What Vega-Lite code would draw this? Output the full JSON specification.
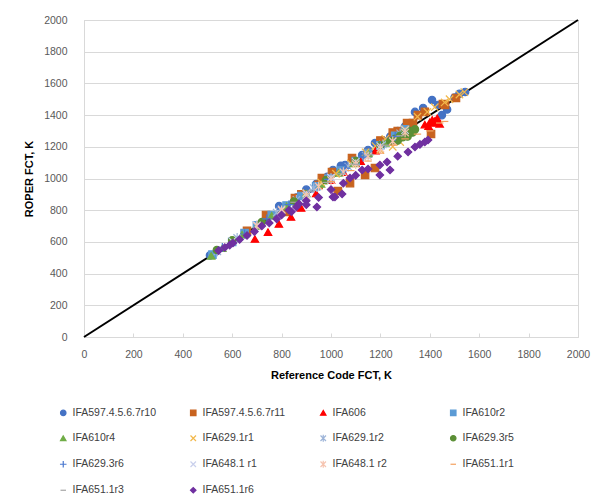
{
  "$schema": "https://vega.github.io/schema/vega-lite/v6.json",
  "width": 494,
  "height": 317,
  "padding": {"left": 84, "top": 20, "right": 26, "bottom": 160},
  "autosize": {"type": "none"},
  "background": "white",
  "config": {
    "font": "Liberation Sans",
    "view": {"stroke": "#D9D9D9", "strokeWidth": 1},
    "axis": {
      "labelFont": "Liberation Sans",
      "labelFontSize": 10.5,
      "labelColor": "#595959",
      "titleFont": "Liberation Sans",
      "titleFontSize": 11,
      "titleFontWeight": "bold",
      "titleColor": "#000000",
      "domainColor": "#D9D9D9",
      "tickColor": "#D9D9D9",
      "gridColor": "#D9D9D9",
      "labelOverlap": false,
      "labelFlush": false
    }
  },
  "datasets": {
    "pts": [
      {"s": "IFA597.4.5.6.7r10", "x": 510, "y": 515},
      {"s": "IFA597.4.5.6.7r10", "x": 790, "y": 826},
      {"s": "IFA597.4.5.6.7r10", "x": 860, "y": 880},
      {"s": "IFA597.4.5.6.7r10", "x": 900, "y": 930},
      {"s": "IFA597.4.5.6.7r10", "x": 940, "y": 965},
      {"s": "IFA597.4.5.6.7r10", "x": 985, "y": 1010},
      {"s": "IFA597.4.5.6.7r10", "x": 1008, "y": 1054},
      {"s": "IFA597.4.5.6.7r10", "x": 1040, "y": 1080},
      {"s": "IFA597.4.5.6.7r10", "x": 1057, "y": 1085},
      {"s": "IFA597.4.5.6.7r10", "x": 1090, "y": 1120},
      {"s": "IFA597.4.5.6.7r10", "x": 1126, "y": 1148},
      {"s": "IFA597.4.5.6.7r10", "x": 1150, "y": 1180},
      {"s": "IFA597.4.5.6.7r10", "x": 1178, "y": 1224},
      {"s": "IFA597.4.5.6.7r10", "x": 1210, "y": 1240},
      {"s": "IFA597.4.5.6.7r10", "x": 1240, "y": 1265},
      {"s": "IFA597.4.5.6.7r10", "x": 1270, "y": 1300},
      {"s": "IFA597.4.5.6.7r10", "x": 1300, "y": 1330},
      {"s": "IFA597.4.5.6.7r10", "x": 1330, "y": 1350},
      {"s": "IFA597.4.5.6.7r10", "x": 1340, "y": 1420},
      {"s": "IFA597.4.5.6.7r10", "x": 1373, "y": 1445},
      {"s": "IFA597.4.5.6.7r10", "x": 1409, "y": 1495},
      {"s": "IFA597.4.5.6.7r10", "x": 1433, "y": 1464},
      {"s": "IFA597.4.5.6.7r10", "x": 1449, "y": 1400},
      {"s": "IFA597.4.5.6.7r10", "x": 1470, "y": 1435},
      {"s": "IFA597.4.5.6.7r10", "x": 1500, "y": 1510},
      {"s": "IFA597.4.5.6.7r10", "x": 1520, "y": 1535},
      {"s": "IFA597.4.5.6.7r10", "x": 1543, "y": 1546},
      {"s": "IFA597.4.5.6.7r11", "x": 660, "y": 670},
      {"s": "IFA597.4.5.6.7r11", "x": 737, "y": 770},
      {"s": "IFA597.4.5.6.7r11", "x": 822, "y": 789},
      {"s": "IFA597.4.5.6.7r11", "x": 854, "y": 877},
      {"s": "IFA597.4.5.6.7r11", "x": 880, "y": 900},
      {"s": "IFA597.4.5.6.7r11", "x": 950, "y": 960},
      {"s": "IFA597.4.5.6.7r11", "x": 963, "y": 1003},
      {"s": "IFA597.4.5.6.7r11", "x": 1004, "y": 1041},
      {"s": "IFA597.4.5.6.7r11", "x": 1028, "y": 921},
      {"s": "IFA597.4.5.6.7r11", "x": 1077, "y": 971},
      {"s": "IFA597.4.5.6.7r11", "x": 1085, "y": 1129},
      {"s": "IFA597.4.5.6.7r11", "x": 1100, "y": 1100},
      {"s": "IFA597.4.5.6.7r11", "x": 1138, "y": 1022},
      {"s": "IFA597.4.5.6.7r11", "x": 1150, "y": 1160},
      {"s": "IFA597.4.5.6.7r11", "x": 1178, "y": 1066},
      {"s": "IFA597.4.5.6.7r11", "x": 1200, "y": 1240},
      {"s": "IFA597.4.5.6.7r11", "x": 1250, "y": 1290},
      {"s": "IFA597.4.5.6.7r11", "x": 1270, "y": 1300},
      {"s": "IFA597.4.5.6.7r11", "x": 1308, "y": 1350},
      {"s": "IFA597.4.5.6.7r11", "x": 1332, "y": 1350},
      {"s": "IFA597.4.5.6.7r11", "x": 1352, "y": 1400},
      {"s": "IFA597.4.5.6.7r11", "x": 1380, "y": 1420},
      {"s": "IFA597.4.5.6.7r11", "x": 1405, "y": 1281},
      {"s": "IFA597.4.5.6.7r11", "x": 1453, "y": 1470},
      {"s": "IFA597.4.5.6.7r11", "x": 1462, "y": 1464},
      {"s": "IFA597.4.5.6.7r11", "x": 1506, "y": 1508},
      {"s": "IFA606", "x": 692, "y": 618},
      {"s": "IFA606", "x": 745, "y": 662},
      {"s": "IFA606", "x": 789, "y": 713},
      {"s": "IFA606", "x": 838, "y": 757},
      {"s": "IFA606", "x": 879, "y": 814},
      {"s": "IFA606", "x": 940, "y": 905},
      {"s": "IFA606", "x": 1000, "y": 990},
      {"s": "IFA606", "x": 1050, "y": 1040},
      {"s": "IFA606", "x": 1120, "y": 1110},
      {"s": "IFA606", "x": 1180, "y": 1175},
      {"s": "IFA606", "x": 1250, "y": 1240},
      {"s": "IFA606", "x": 1380, "y": 1340},
      {"s": "IFA606", "x": 1395, "y": 1330},
      {"s": "IFA606", "x": 1400, "y": 1355},
      {"s": "IFA606", "x": 1410, "y": 1370},
      {"s": "IFA606", "x": 1415, "y": 1350},
      {"s": "IFA606", "x": 1420, "y": 1362},
      {"s": "IFA606", "x": 1430, "y": 1380},
      {"s": "IFA606", "x": 1440, "y": 1345},
      {"s": "IFA610r2", "x": 520, "y": 520},
      {"s": "IFA610r2", "x": 600, "y": 600},
      {"s": "IFA610r2", "x": 650, "y": 655},
      {"s": "IFA610r2", "x": 700, "y": 705},
      {"s": "IFA610r2", "x": 760, "y": 770},
      {"s": "IFA610r2", "x": 820, "y": 830},
      {"s": "IFA610r2", "x": 880, "y": 890},
      {"s": "IFA610r2", "x": 940, "y": 950},
      {"s": "IFA610r2", "x": 990, "y": 1000},
      {"s": "IFA610r2", "x": 1040, "y": 1050},
      {"s": "IFA610r2", "x": 1100, "y": 1110},
      {"s": "IFA610r2", "x": 1150, "y": 1160},
      {"s": "IFA610r2", "x": 1200, "y": 1210},
      {"s": "IFA610r2", "x": 1260, "y": 1270},
      {"s": "IFA610r2", "x": 1300, "y": 1310},
      {"s": "IFA610r4", "x": 515, "y": 512},
      {"s": "IFA610r4", "x": 560, "y": 560},
      {"s": "IFA610r4", "x": 640, "y": 645},
      {"s": "IFA610r4", "x": 700, "y": 700},
      {"s": "IFA610r4", "x": 760, "y": 765},
      {"s": "IFA610r4", "x": 820, "y": 825},
      {"s": "IFA610r4", "x": 900, "y": 905},
      {"s": "IFA610r4", "x": 960, "y": 965},
      {"s": "IFA610r4", "x": 1030, "y": 1035},
      {"s": "IFA610r4", "x": 1090, "y": 1095},
      {"s": "IFA610r4", "x": 1150, "y": 1160},
      {"s": "IFA610r4", "x": 1220, "y": 1225},
      {"s": "IFA610r4", "x": 1290, "y": 1295},
      {"s": "IFA629.1r1", "x": 900, "y": 910},
      {"s": "IFA629.1r1", "x": 960, "y": 975},
      {"s": "IFA629.1r1", "x": 1020, "y": 1030},
      {"s": "IFA629.1r1", "x": 1080, "y": 1095},
      {"s": "IFA629.1r1", "x": 1140, "y": 1165},
      {"s": "IFA629.1r1", "x": 1180, "y": 1205},
      {"s": "IFA629.1r1", "x": 1200, "y": 1180},
      {"s": "IFA629.1r1", "x": 1220, "y": 1250},
      {"s": "IFA629.1r1", "x": 1250, "y": 1200},
      {"s": "IFA629.1r1", "x": 1280, "y": 1230},
      {"s": "IFA629.1r1", "x": 1300, "y": 1310},
      {"s": "IFA629.1r1", "x": 1350, "y": 1390},
      {"s": "IFA629.1r1", "x": 1390, "y": 1420},
      {"s": "IFA629.1r1", "x": 1420, "y": 1450},
      {"s": "IFA629.1r1", "x": 1460, "y": 1480},
      {"s": "IFA629.1r1", "x": 1480, "y": 1500},
      {"s": "IFA629.1r1", "x": 1520, "y": 1530},
      {"s": "IFA629.1r1", "x": 1540, "y": 1545},
      {"s": "IFA629.1r2", "x": 540, "y": 540},
      {"s": "IFA629.1r2", "x": 620, "y": 625},
      {"s": "IFA629.1r2", "x": 700, "y": 705},
      {"s": "IFA629.1r2", "x": 780, "y": 785},
      {"s": "IFA629.1r2", "x": 860, "y": 865},
      {"s": "IFA629.1r2", "x": 930, "y": 940},
      {"s": "IFA629.1r2", "x": 1000, "y": 1005},
      {"s": "IFA629.1r2", "x": 1070, "y": 1075},
      {"s": "IFA629.1r2", "x": 1140, "y": 1145},
      {"s": "IFA629.1r2", "x": 1210, "y": 1215},
      {"s": "IFA629.1r2", "x": 1280, "y": 1285},
      {"s": "IFA629.3r5", "x": 538, "y": 549},
      {"s": "IFA629.3r5", "x": 600, "y": 610},
      {"s": "IFA629.3r5", "x": 720, "y": 725},
      {"s": "IFA629.3r5", "x": 850, "y": 855},
      {"s": "IFA629.3r5", "x": 980, "y": 990},
      {"s": "IFA629.3r5", "x": 1100, "y": 1110},
      {"s": "IFA629.3r5", "x": 1200, "y": 1210},
      {"s": "IFA629.3r5", "x": 1240, "y": 1235},
      {"s": "IFA629.3r5", "x": 1260, "y": 1250},
      {"s": "IFA629.3r5", "x": 1270, "y": 1240},
      {"s": "IFA629.3r5", "x": 1280, "y": 1270},
      {"s": "IFA629.3r5", "x": 1290, "y": 1260},
      {"s": "IFA629.3r5", "x": 1300, "y": 1280},
      {"s": "IFA629.3r5", "x": 1310, "y": 1265},
      {"s": "IFA629.3r5", "x": 1310, "y": 1290},
      {"s": "IFA629.3r5", "x": 1320, "y": 1300},
      {"s": "IFA629.3r5", "x": 1330, "y": 1290},
      {"s": "IFA629.3r5", "x": 1340, "y": 1310},
      {"s": "IFA629.3r6", "x": 560, "y": 565},
      {"s": "IFA629.3r6", "x": 650, "y": 650},
      {"s": "IFA629.3r6", "x": 740, "y": 745},
      {"s": "IFA629.3r6", "x": 830, "y": 835},
      {"s": "IFA629.3r6", "x": 910, "y": 915},
      {"s": "IFA629.3r6", "x": 990, "y": 995},
      {"s": "IFA629.3r6", "x": 1060, "y": 1065},
      {"s": "IFA629.3r6", "x": 1130, "y": 1135},
      {"s": "IFA629.3r6", "x": 1200, "y": 1205},
      {"s": "IFA629.3r6", "x": 1260, "y": 1265},
      {"s": "IFA648.1 r1", "x": 600, "y": 605},
      {"s": "IFA648.1 r1", "x": 700, "y": 705},
      {"s": "IFA648.1 r1", "x": 800, "y": 805},
      {"s": "IFA648.1 r1", "x": 900, "y": 905},
      {"s": "IFA648.1 r1", "x": 1000, "y": 1005},
      {"s": "IFA648.1 r1", "x": 1100, "y": 1105},
      {"s": "IFA648.1 r1", "x": 1200, "y": 1205},
      {"s": "IFA648.1 r1", "x": 1300, "y": 1305},
      {"s": "IFA648.1 r2", "x": 700, "y": 700},
      {"s": "IFA648.1 r2", "x": 800, "y": 800},
      {"s": "IFA648.1 r2", "x": 900, "y": 890},
      {"s": "IFA648.1 r2", "x": 950, "y": 950},
      {"s": "IFA648.1 r2", "x": 1000, "y": 990},
      {"s": "IFA648.1 r2", "x": 1050, "y": 1040},
      {"s": "IFA648.1 r2", "x": 1100, "y": 1090},
      {"s": "IFA648.1 r2", "x": 1150, "y": 1140},
      {"s": "IFA648.1 r2", "x": 1200, "y": 1190},
      {"s": "IFA648.1 r2", "x": 1250, "y": 1235},
      {"s": "IFA648.1 r2", "x": 1300, "y": 1290},
      {"s": "IFA651.1r1", "x": 1000, "y": 980},
      {"s": "IFA651.1r1", "x": 1080, "y": 1050},
      {"s": "IFA651.1r1", "x": 1150, "y": 1110},
      {"s": "IFA651.1r1", "x": 1200, "y": 1160},
      {"s": "IFA651.1r1", "x": 1250, "y": 1210},
      {"s": "IFA651.1r1", "x": 1300, "y": 1250},
      {"s": "IFA651.1r1", "x": 1350, "y": 1280},
      {"s": "IFA651.1r1", "x": 1400, "y": 1300},
      {"s": "IFA651.1r1", "x": 1440, "y": 1350},
      {"s": "IFA651.1r1", "x": 1460, "y": 1360},
      {"s": "IFA651.1r3", "x": 850, "y": 850},
      {"s": "IFA651.1r3", "x": 920, "y": 920},
      {"s": "IFA651.1r3", "x": 980, "y": 975},
      {"s": "IFA651.1r3", "x": 1040, "y": 1030},
      {"s": "IFA651.1r3", "x": 1100, "y": 1090},
      {"s": "IFA651.1r3", "x": 1160, "y": 1150},
      {"s": "IFA651.1r3", "x": 1220, "y": 1210},
      {"s": "IFA651.1r3", "x": 1280, "y": 1270},
      {"s": "IFA651.1r6", "x": 545, "y": 545},
      {"s": "IFA651.1r6", "x": 570, "y": 565},
      {"s": "IFA651.1r6", "x": 590, "y": 580},
      {"s": "IFA651.1r6", "x": 603, "y": 593},
      {"s": "IFA651.1r6", "x": 630, "y": 615},
      {"s": "IFA651.1r6", "x": 660, "y": 640},
      {"s": "IFA651.1r6", "x": 690, "y": 665},
      {"s": "IFA651.1r6", "x": 720, "y": 700},
      {"s": "IFA651.1r6", "x": 750, "y": 720},
      {"s": "IFA651.1r6", "x": 780, "y": 745},
      {"s": "IFA651.1r6", "x": 800, "y": 770},
      {"s": "IFA651.1r6", "x": 830, "y": 800},
      {"s": "IFA651.1r6", "x": 840, "y": 790},
      {"s": "IFA651.1r6", "x": 860, "y": 820},
      {"s": "IFA651.1r6", "x": 870, "y": 840},
      {"s": "IFA651.1r6", "x": 900, "y": 860},
      {"s": "IFA651.1r6", "x": 900, "y": 835},
      {"s": "IFA651.1r6", "x": 943, "y": 820},
      {"s": "IFA651.1r6", "x": 950, "y": 880},
      {"s": "IFA651.1r6", "x": 1000, "y": 930},
      {"s": "IFA651.1r6", "x": 1008, "y": 883},
      {"s": "IFA651.1r6", "x": 1016, "y": 883},
      {"s": "IFA651.1r6", "x": 1045, "y": 902},
      {"s": "IFA651.1r6", "x": 1050, "y": 970},
      {"s": "IFA651.1r6", "x": 1077, "y": 1003},
      {"s": "IFA651.1r6", "x": 1100, "y": 1020},
      {"s": "IFA651.1r6", "x": 1126, "y": 1054},
      {"s": "IFA651.1r6", "x": 1150, "y": 1060},
      {"s": "IFA651.1r6", "x": 1198, "y": 1022},
      {"s": "IFA651.1r6", "x": 1198, "y": 1085},
      {"s": "IFA651.1r6", "x": 1227, "y": 1104},
      {"s": "IFA651.1r6", "x": 1239, "y": 1054},
      {"s": "IFA651.1r6", "x": 1270, "y": 1140},
      {"s": "IFA651.1r6", "x": 1312, "y": 1167},
      {"s": "IFA651.1r6", "x": 1340, "y": 1199},
      {"s": "IFA651.1r6", "x": 1360, "y": 1215},
      {"s": "IFA651.1r6", "x": 1380, "y": 1230},
      {"s": "IFA651.1r6", "x": 1393, "y": 1243}
    ],
    "diag": [{"x": 0, "y": 0}, {"x": 2000, "y": 2000}]
  },
  "encoding": {
    "x": {
      "field": "x", "type": "quantitative",
      "scale": {"domain": [0, 2000], "nice": false, "zero": true},
      "axis": {"title": "Reference Code FCT, K", "values": [0,200,400,600,800,1000,1200,1400,1600,1800,2000], "format": "d", "grid": false, "tickSize": -4, "labelPadding": 16, "titlePadding": 10, "labelOverlap": false, "labelFlush": false}
    },
    "y": {
      "field": "y", "type": "quantitative",
      "scale": {"domain": [0, 2000], "nice": false},
      "axis": {"title": "ROPER FCT, K", "values": [0,200,400,600,800,1000,1200,1400,1600,1800,2000], "format": "d", "grid": true, "tickSize": -4, "labelPadding": 21, "titlePadding": 9, "labelOverlap": false, "labelFlush": false}
    }
  },
  "layer": [
    {
      "data": {"name": "diag"},
      "mark": {"type": "line", "color": "#000000", "strokeWidth": 2},
      "encoding": {}
    },
    {
      "data": {"name": "pts"},
      "mark": {"type": "point", "filled": true, "strokeWidth": 1.2, "size": 55, "opacity": 1},
      "encoding": {
        "color": {
          "field": "s", "type": "nominal",
          "scale": {
            "domain": ["IFA597.4.5.6.7r10","IFA597.4.5.6.7r11","IFA606","IFA610r2","IFA610r4","IFA629.1r1","IFA629.1r2","IFA629.3r5","IFA629.3r6","IFA648.1 r1","IFA648.1 r2","IFA651.1r1","IFA651.1r3","IFA651.1r6"],
            "range": ["#4472C4","#C8631F","#FF0000","#5B9BD5","#70AD47","#F2B84B","#9DB4D8","#5B8F36","#4A78CF","#C9D0EC","#F6C4B0","#F4A15F","#A5A5A5","#7030A0"]
          },
          "legend": {
            "title": null, "orient": "none", "legendX": -26, "legendY": 387,
            "direction": "horizontal", "gridAlign": "all",
            "columns": 4, "columnPadding": 32, "rowPadding": 13,
            "labelFont": "Liberation Sans", "labelFontSize": 10.5, "labelColor": "#404040",
            "symbolSize": 30, "symbolStrokeWidth": 1.2, "labelLimit": 200
          }
        },
        "stroke": {
          "field": "s", "type": "nominal",
          "scale": {
            "domain": ["IFA597.4.5.6.7r10","IFA597.4.5.6.7r11","IFA606","IFA610r2","IFA610r4","IFA629.1r1","IFA629.1r2","IFA629.3r5","IFA629.3r6","IFA648.1 r1","IFA648.1 r2","IFA651.1r1","IFA651.1r3","IFA651.1r6"],
            "range": ["#4472C4","#C8631F","#FF0000","#5B9BD5","#70AD47","#F2B84B","#9DB4D8","#5B8F36","#4A78CF","#C9D0EC","#F6C4B0","#F4A15F","#A5A5A5","#7030A0"]
          },
          "legend": null
        },
        "shape": {
          "field": "s", "type": "nominal",
          "scale": {
            "domain": ["IFA597.4.5.6.7r10","IFA597.4.5.6.7r11","IFA606","IFA610r2","IFA610r4","IFA629.1r1","IFA629.1r2","IFA629.3r5","IFA629.3r6","IFA648.1 r1","IFA648.1 r2","IFA651.1r1","IFA651.1r3","IFA651.1r6"],
            "range": ["circle","square","triangle-up","square","triangle-up","M-1,-1L1,1M-1,1L1,-1","M-1,-1L1,1M-1,1L1,-1M0,-1.3L0,1.3","circle","M-1.2,0L1.2,0M0,-1.2L0,1.2","M-1,-1L1,1M-1,1L1,-1","M-1,-1L1,1M-1,1L1,-1M0,-1.3L0,1.3","M-1,0L1,0","M-1,0L1,0","diamond"]
          },
          "legend": {
            "title": null, "orient": "none", "legendX": -26, "legendY": 387,
            "direction": "horizontal", "gridAlign": "all",
            "columns": 4, "columnPadding": 32, "rowPadding": 13,
            "labelFont": "Liberation Sans", "labelFontSize": 10.5, "labelColor": "#404040",
            "symbolSize": 30, "symbolStrokeWidth": 1.2, "labelLimit": 200
          }
        }
      }
    }
  ]
}
